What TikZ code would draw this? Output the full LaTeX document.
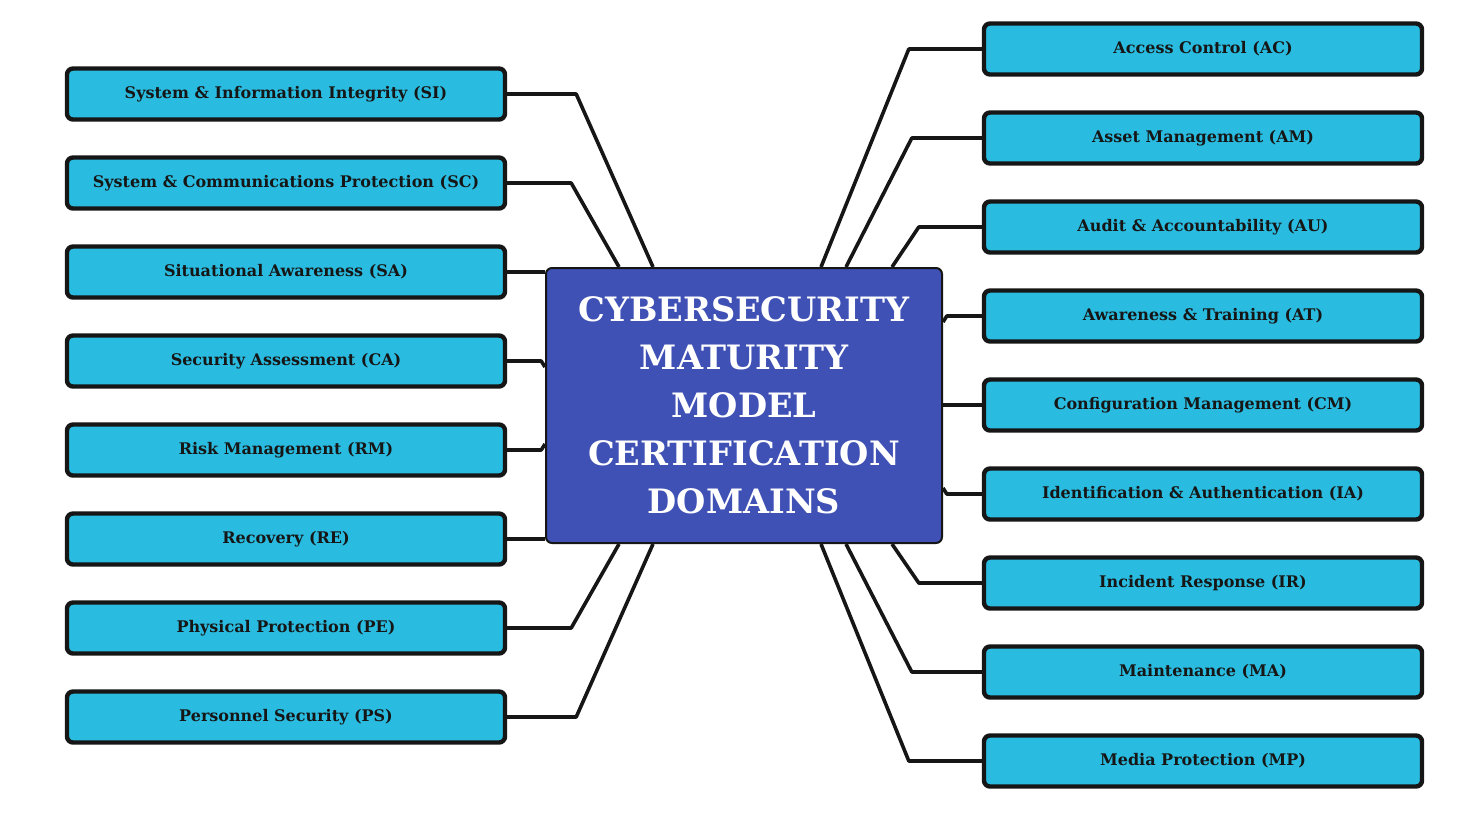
\documentclass[tikz,border=0pt]{standalone}
\usepackage{fontspec}
\setmainfont{DejaVu Serif}
\usetikzlibrary{positioning, calc}

\definecolor{domaincyan}{HTML}{29BCE0}
\definecolor{coreblue}{HTML}{3F51B5}
\definecolor{inkline}{HTML}{161616}

\begin{document}
\begin{tikzpicture}[
    x=0.5pt, y=-0.5pt,
    domainbox/.style={
        rectangle,
        draw=inkline,
        line width=2.2pt,
        fill=domaincyan,
        rounded corners=3pt,
        minimum width=219pt,
        minimum height=25.5pt,
        font=\fontsize{8}{9}\selectfont\bfseries,
        text=inkline,
    },
    corebox/.style={
        rectangle,
        draw=inkline,
        line width=1pt,
        fill=coreblue,
        rounded corners=3pt,
        minimum width=198pt,
        minimum height=137.5pt,
        align=center,
        text=white,
        font=\fontsize{16.8}{24}\selectfont\bfseries,
    },
    link/.style={
        draw=inkline,
        line width=1.8pt,
        line join=round,
    }
]
\useasboundingbox (0,0) rectangle (1482,816);

% centre
\node[corebox] (cmmc) at (744,405.5) {CYBERSECURITY\\MATURITY\\MODEL\\CERTIFICATION\\DOMAINS};

% left side
\node[domainbox] (si) at (286,94)  {System \& Information Integrity (SI)};
\node[domainbox] (sc) at (286,183) {System \& Communications Protection (SC)};
\node[domainbox] (sa) at (286,272) {Situational Awareness (SA)};
\node[domainbox] (ca) at (286,361) {Security Assessment (CA)};
\node[domainbox] (rm) at (286,450) {Risk Management (RM)};
\node[domainbox] (re) at (286,539) {Recovery (RE)};
\node[domainbox] (pe) at (286,628) {Physical Protection (PE)};
\node[domainbox] (ps) at (286,717) {Personnel Security (PS)};

% right side
\node[domainbox] (ac) at (1203,49)  {Access Control (AC)};
\node[domainbox] (am) at (1203,138) {Asset Management (AM)};
\node[domainbox] (au) at (1203,227) {Audit \& Accountability (AU)};
\node[domainbox] (atr) at (1203,316) {Awareness \& Training (AT)};
\node[domainbox] (cm) at (1203,405) {Configuration Management (CM)};
\node[domainbox] (ia) at (1203,494) {Identification \& Authentication (IA)};
\node[domainbox] (ir) at (1203,583) {Incident Response (IR)};
\node[domainbox] (ma) at (1203,672) {Maintenance (MA)};
\node[domainbox] (mp) at (1203,761) {Media Protection (MP)};

% links, left
\draw[link] (si.east) -- ++(69,0) -- ([shift={(108,0)}]cmmc.north west);
\draw[link] (sc.east) -- ++(64,0) -- ([shift={(74,0)}]cmmc.north west);
\draw[link] (sa.east) -- (sa.east -| cmmc.west);
\draw[link] (ca.east) -- ++(34,0) -- ($(ca.east -| cmmc.west)+(0,6)$);
\draw[link] (rm.east) -- ++(34,0) -- ($(rm.east -| cmmc.west)+(0,-6)$);
\draw[link] (re.east) -- (re.east -| cmmc.west);
\draw[link] (pe.east) -- ++(64,0) -- ([shift={(74,0)}]cmmc.south west);
\draw[link] (ps.east) -- ++(69,0) -- ([shift={(108,0)}]cmmc.south west);

% links, right
\draw[link] (ac.west) -- ++(-73,0) -- ([shift={(276,0)}]cmmc.north west);
\draw[link] (am.west) -- ++(-70,0) -- ([shift={(301,0)}]cmmc.north west);
\draw[link] (au.west) -- ++(-63,0) -- ([shift={(347,0)}]cmmc.north west);
\draw[link] (atr.west) -- ++(-35,0) -- ($(atr.west -| cmmc.east)+(0,6)$);
\draw[link] (cm.west) -- (cm.west -| cmmc.east);
\draw[link] (ia.west) -- ++(-35,0) -- ($(ia.west -| cmmc.east)+(0,-6)$);
\draw[link] (ir.west) -- ++(-63,0) -- ([shift={(347,0)}]cmmc.south west);
\draw[link] (ma.west) -- ++(-70,0) -- ([shift={(301,0)}]cmmc.south west);
\draw[link] (mp.west) -- ++(-73,0) -- ([shift={(276,0)}]cmmc.south west);
\end{tikzpicture}
\end{document}
